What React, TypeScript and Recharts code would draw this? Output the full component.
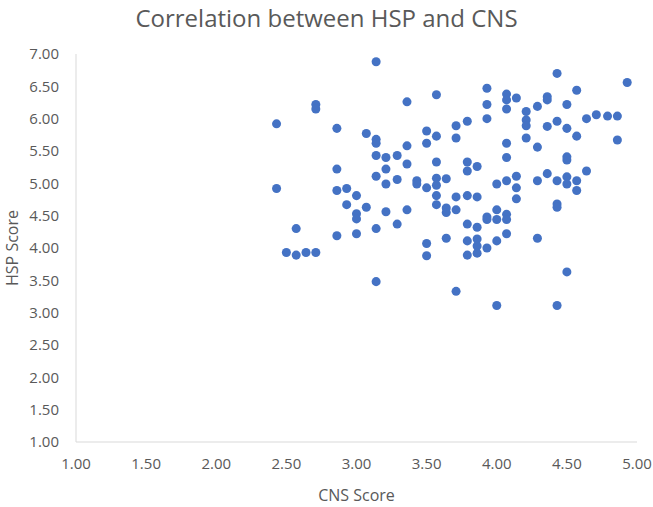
import { ScatterChart, Scatter, XAxis, YAxis, ZAxis } from 'recharts';

// CNS score (x) and HSP score (y) per respondent
const cnsScores = [
    3.14, 3.57, 3.36, 2.71, 2.71, 2.43, 2.86, 3.07, 3.50, 3.57,
    3.71, 3.71, 3.14, 3.14, 3.50, 3.36, 3.14, 3.21, 3.29, 2.86,
    3.21, 3.36, 3.57, 3.14, 3.29, 3.21, 3.43, 3.43, 3.57, 3.57,
    3.64, 3.50, 2.43, 2.86, 2.93, 3.00, 3.57, 3.71, 4.43, 4.93,
    3.93, 4.07, 4.07, 4.07, 4.14, 4.57, 4.36, 4.36, 3.93, 4.29,
    4.50, 4.21, 3.93, 4.21, 4.21, 4.64, 4.71, 4.79, 4.86, 4.43,
    4.36, 4.50, 4.57, 3.79, 4.86, 4.07, 4.21, 4.29, 4.07, 4.50,
    4.50, 3.79, 3.79, 3.86, 4.64, 4.36, 4.14, 4.07, 4.00, 4.14,
    4.29, 4.43, 4.50, 4.50, 4.57, 4.57, 3.79, 3.86, 4.14, 2.93,
    3.07, 3.57, 3.64, 3.64, 3.71, 3.00, 3.00, 3.21, 3.36, 2.57,
    2.86, 3.00, 3.14, 3.29, 3.50, 3.50, 3.64, 2.50, 2.57, 2.64,
    2.71, 3.14, 3.71, 4.43, 4.43, 3.93, 3.93, 4.00, 4.07, 4.07,
    4.00, 3.79, 3.86, 4.07, 3.79, 3.86, 3.86, 3.93, 4.00, 3.79,
    3.86, 4.29, 4.50, 4.00, 4.43,
];

const hspScores = [
    6.88, 6.37, 6.26, 6.22, 6.15, 5.92, 5.85, 5.77, 5.81, 5.73,
    5.89, 5.70, 5.68, 5.62, 5.62, 5.58, 5.43, 5.40, 5.43, 5.22,
    5.22, 5.30, 5.33, 5.11, 5.06, 4.99, 5.04, 4.99, 5.08, 4.97,
    5.07, 4.93, 4.92, 4.89, 4.92, 4.81, 4.81, 4.79, 6.70, 6.56,
    6.47, 6.38, 6.29, 6.15, 6.32, 6.44, 6.34, 6.29, 6.22, 6.19,
    6.22, 6.11, 6.00, 5.98, 5.89, 6.00, 6.06, 6.04, 6.04, 5.96,
    5.88, 5.85, 5.73, 5.96, 5.67, 5.62, 5.70, 5.56, 5.40, 5.41,
    5.36, 5.33, 5.19, 5.26, 5.19, 5.15, 5.11, 5.04, 4.99, 4.93,
    5.04, 5.04, 5.10, 4.99, 5.04, 4.89, 4.81, 4.79, 4.76, 4.67,
    4.63, 4.67, 4.62, 4.55, 4.59, 4.53, 4.45, 4.56, 4.59, 4.30,
    4.19, 4.22, 4.30, 4.37, 4.07, 3.88, 4.15, 3.93, 3.89, 3.93,
    3.93, 3.48, 3.33, 4.68, 4.63, 4.48, 4.44, 4.59, 4.52, 4.44,
    4.44, 4.37, 4.32, 4.22, 4.11, 4.14, 4.03, 4.00, 4.11, 3.89,
    3.92, 4.15, 3.63, 3.11, 3.11,
];

const xTicks = [1, 1.5, 2, 2.5, 3, 3.5, 4, 4.5, 5];
const yTicks = [1, 1.5, 2, 2.5, 3, 3.5, 4, 4.5, 5, 5.5, 6, 6.5, 7];

const points = cnsScores.map((cns, i) => ({ cns, hsp: hspScores[i] }));

const FONT = '"Open Sans", sans-serif';
const TEXT = '#595959';
const AXIS = '#d9d9d9';
const DOT = '#4472c4';

export default function App() {
    const fmt = (v: number) => v.toFixed(2);
    return (
        <div style={{ position: 'absolute', left: 0, top: 0, width: 653, height: 507, background: '#fff', fontFamily: FONT }}>
            <div style={{ position: 'absolute', top: 1, left: 0, width: 653, textAlign: 'center', fontSize: 24, color: TEXT }}>
                Correlation between HSP and CNS
            </div>
            <ScatterChart width={653} height={507} margin={{ top: 54, right: 16, bottom: 15, left: 0 }}>
                <XAxis
                    type="number"
                    dataKey="cns"
                    domain={[1, 5]}
                    ticks={xTicks}
                    tickFormatter={fmt}
                    height={50}
                    tickLine={false}
                    tickMargin={10}
                    stroke={AXIS}
                    tick={{ fill: TEXT, fontSize: 15, fontFamily: FONT }}
                    label={{ value: 'CNS Score', position: 'insideBottom', offset: -9, fill: TEXT, fontSize: 16, fontFamily: FONT }}
                />
                <YAxis
                    type="number"
                    dataKey="hsp"
                    domain={[1, 7]}
                    ticks={yTicks}
                    tickFormatter={fmt}
                    width={76}
                    tickLine={false}
                    tickMargin={11}
                    stroke={AXIS}
                    tick={{ fill: TEXT, fontSize: 15, fontFamily: FONT }}
                    label={{ value: 'HSP Score', angle: -90, position: 'insideLeft', offset: 12, textAnchor: 'middle', fill: TEXT, fontSize: 16, fontFamily: FONT }}
                />
                <ZAxis range={[90, 90]} />
                <Scatter data={points} fill={DOT} isAnimationActive={false} />
            </ScatterChart>
        </div>
    );
}
